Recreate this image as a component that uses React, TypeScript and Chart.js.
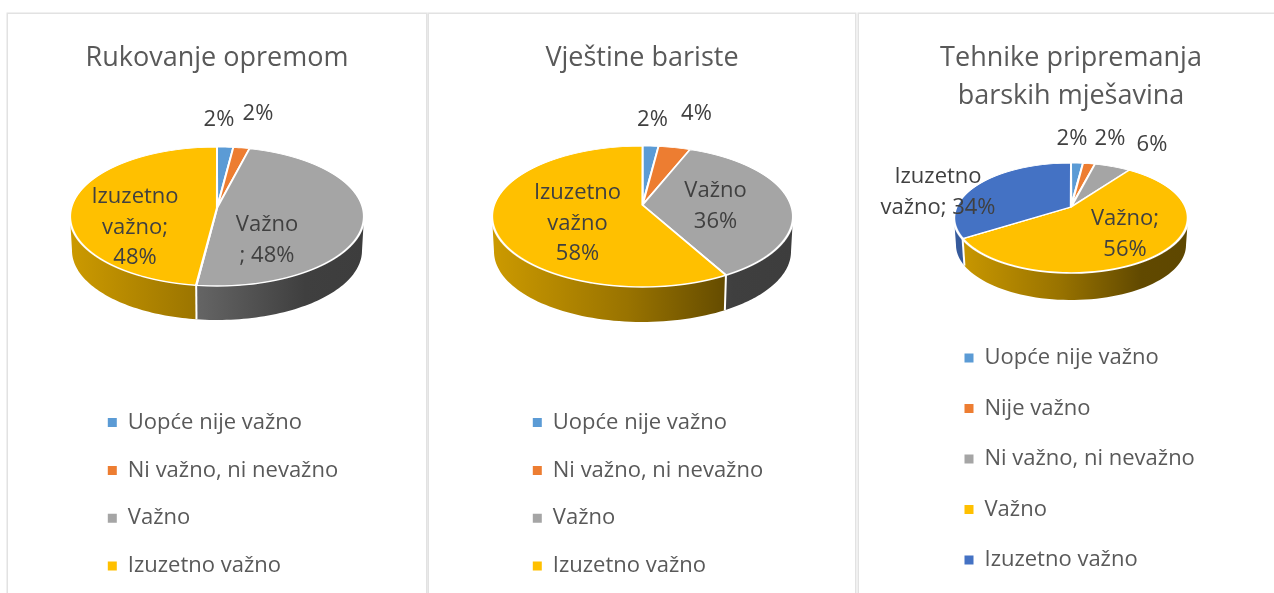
import React, { useEffect, useRef } from "react";
import { Chart, registerables } from "chart.js";

Chart.register(...registerables);

const FONT = '"Open Sans", sans-serif';
const TITLE_COLOR = "#595959";
const LABEL_COLOR = "#404040";

const categoriesFour = ["Uopće nije važno", "Ni važno, ni nevažno", "Važno", "Izuzetno važno"];
const categoriesFive = ["Uopće nije važno", "Nije važno", "Ni važno, ni nevažno", "Važno", "Izuzetno važno"];

const valuesRukovanje = [2, 2, 48, 48];
const valuesVjestine = [2, 4, 36, 58];
const valuesTehnike = [2, 2, 6, 56, 34];

const labelsRukovanje = [["2%"], ["2%"], ["Važno", "; 48%"], ["Izuzetno", "važno;", "48%"]];
const labelsVjestine = [["2%"], ["4%"], ["Važno", "36%"], ["Izuzetno", "važno", "58%"]];
const labelsTehnike = [["2%"], ["2%"], ["6%"], ["Važno;", "56%"], ["Izuzetno", "važno; 34%"]];

const colorsFour = ["#5B9BD5", "#ED7D31", "#A5A5A5", "#FFC000"];
const colorsFive = ["#5B9BD5", "#ED7D31", "#A5A5A5", "#FFC000", "#4472C4"];

const shade = (hex: string, f: number) => {
  const n = parseInt(hex.slice(1), 16);
  const c = [(n >> 16) & 255, (n >> 8) & 255, n & 255].map((v) => Math.round(v * f));
  return `rgb(${c[0]},${c[1]},${c[2]})`;
};

const panels = [
  {
    title: "Rukovanje opremom",
    categories: categoriesFour,
    values: valuesRukovanje,
    colors: colorsFour,
    labels: labelsRukovanje,
    left: 8,
    width: 418,
    padX: 74,
    legendGap: 25.8,
    legendBottom: 6,
    geom: { cx: 209, cy: 194, rx: 147, ryTop: 61, ryBottom: 78, depth: 34 },
    anchors: [[2, -88], [41, -94], [50, 17], [-82, -11]],
  },
  {
    title: "Vještine bariste",
    categories: categoriesFour,
    values: valuesVjestine,
    colors: colorsFour,
    labels: labelsVjestine,
    left: 429,
    width: 426,
    padX: 78,
    legendGap: 25.8,
    legendBottom: 6,
    geom: { cx: 213.5, cy: 191, rx: 150.5, ryTop: 59, ryBottom: 82, depth: 35 },
    anchors: [[10, -85], [54, -91], [73, -14], [-65, -12]],
  },
  {
    title: ["Tehnike pripremanja", "barskih mješavina"],
    categories: categoriesFive,
    values: valuesTehnike,
    colors: colorsFive,
    labels: labelsTehnike,
    left: 859,
    width: 424,
    padX: 77,
    legendGap: 28.5,
    legendBottom: 12,
    geom: { cx: 212, cy: 193, rx: 117, ryTop: 44, ryBottom: 66, depth: 27 },
    anchors: [[1, -68], [39, -68], [81, -62], [54, 12], [-133, -30]],
  },
];

const makePlugins = (panel: any) => {
  const g = panel.geom;
  // Perspective of a tilted disc: far half is flatter and narrower than the near half.
  const q = (g.ryBottom - g.ryTop) / (g.ryBottom + g.ryTop);
  const ry = g.ryBottom * (1 - q);
  const rxp = g.rx * Math.sqrt(1 - q * q);
  const project = (a: number) => {
    const u = Math.cos(a);
    const v = Math.sin(a);
    const w = 1 - q * v;
    return [g.cx + (rxp * u) / w, g.cy + (ry * v) / w];
  };
  const wallFrom = Math.asin(q);
  const wallTo = Math.PI - wallFrom;

  const pie3d = {
    id: "pie3d",
    beforeDatasetDraw(chart: any) {
      const ctx = chart.ctx;
      const arcs = chart.getDatasetMeta(0).data;
      // Side wall of the disc, from each slice's own angles.
      arcs.forEach((arc: any, i: number) => {
        const a0 = Math.max(arc.startAngle, wallFrom);
        const a1 = Math.min(arc.endAngle, wallTo);
        if (a1 <= a0) return;
        const steps = 60;
        ctx.beginPath();
        for (let s = 0; s <= steps; s++) {
          const [x, y] = project(a0 + ((a1 - a0) * s) / steps);
          s === 0 ? ctx.moveTo(x, y) : ctx.lineTo(x, y);
        }
        for (let s = steps; s >= 0; s--) {
          const [x, y] = project(a0 + ((a1 - a0) * s) / steps);
          ctx.lineTo(g.cx + (x - g.cx) * ((g.rx - 2) / g.rx), y + g.depth);
        }
        ctx.closePath();
        const grad = ctx.createLinearGradient(g.cx - g.rx, 0, g.cx + g.rx, 0);
        const base = panel.colors[i];
        grad.addColorStop(0, shade(base, 0.8));
        grad.addColorStop(0.45, shade(base, 0.6));
        grad.addColorStop(0.8, shade(base, 0.38));
        grad.addColorStop(1, shade(base, 0.37));
        ctx.fillStyle = grad;
        ctx.fill();
      });
      // White seams on slice boundaries that face the viewer.
      ctx.strokeStyle = "#fff";
      ctx.lineWidth = 2;
      arcs.forEach((arc: any) => {
        const a = arc.endAngle;
        if (a > wallFrom && a < wallTo) {
          const [x, y] = project(a);
          ctx.beginPath();
          ctx.moveTo(x, y);
          ctx.lineTo(g.cx + (x - g.cx) * ((g.rx - 2) / g.rx), y + g.depth);
          ctx.stroke();
        }
      });
      // Top face, drawn by the arc elements, one pixel row at a time.
      const firstRow = Math.floor(g.cy - g.ryTop - 3);
      const lastRow = Math.ceil(g.cy + g.ryBottom + 3);
      for (let row = firstRow; row <= lastRow; row++) {
        const yc = row + 0.5 - g.cy;
        const v = yc / (ry + q * yc);
        const w = 1 - q * v;
        ctx.save();
        ctx.beginPath();
        ctx.rect(0, row, chart.width, 1);
        ctx.clip();
        arcs.forEach((arc: any) => {
          const R = arc.outerRadius;
          ctx.save();
          ctx.translate(g.cx, row + 0.5);
          ctx.scale(rxp / (w * R), ry / (w * w * R));
          ctx.translate(-arc.x, -(arc.y + v * R));
          arc.draw(ctx);
          ctx.restore();
        });
        ctx.restore();
      }
      return false;
    },
    afterDraw(chart: any) {
      const ctx = chart.ctx;
      ctx.save();
      ctx.fillStyle = LABEL_COLOR;
      ctx.font = `22px ${FONT}`;
      ctx.textAlign = "center";
      ctx.textBaseline = "middle";
      panel.labels.forEach((lines: string[], i: number) => {
        const [dx, dy] = panel.anchors[i];
        lines.forEach((line: string, j: number) => {
          ctx.fillText(line, g.cx + dx, g.cy + dy + j * 30.5);
        });
      });
      ctx.restore();
    },
  };
  return [pie3d];
};

function PiePanel({ panel }: { panel: any }) {
  const ref = useRef<HTMLCanvasElement | null>(null);
  useEffect(() => {
    const chart = new Chart(ref.current as HTMLCanvasElement, {
      type: "pie",
      data: {
        labels: panel.categories,
        datasets: [
          {
            data: panel.values,
            backgroundColor: panel.colors,
            borderColor: "#ffffff",
            borderWidth: 2,
          },
        ],
      },
      options: {
        responsive: false,
        animation: false,
        layout: { padding: { left: panel.padX, right: panel.padX, top: 0, bottom: panel.legendBottom } },
        plugins: {
          tooltip: { enabled: false },
          title: {
            display: true,
            text: panel.title,
            color: TITLE_COLOR,
            font: { family: FONT, size: 27, weight: "normal", lineHeight: 1.41 },
            padding: { top: 25, bottom: 10 },
          },
          legend: {
            display: true,
            position: "bottom",
            align: "start",
            labels: {
              boxWidth: 9,
              boxHeight: 9,
              padding: panel.legendGap,
              color: TITLE_COLOR,
              font: { family: FONT, size: 22 },
              generateLabels: (c: any) =>
                (Chart as any).overrides.doughnut.plugins.legend.labels
                  .generateLabels(c)
                  .map((item: any) => ({ ...item, lineWidth: 0 })),
            },
          },
        },
      },
      plugins: makePlugins(panel) as any,
    } as any);
    return () => chart.destroy();
  }, [panel]);
  return (
    <div
      style={{
        position: "absolute",
        left: panel.left,
        top: 14,
        width: panel.width,
        height: 600,
        boxShadow: "0 0 0 1.5px #e2e2e2",
      }}
    >
      <canvas ref={ref} width={panel.width} height={579} style={{ display: "block", filter: "blur(0.4px)" }} />
    </div>
  );
}

export default function App() {
  return (
    <div style={{ position: "fixed", inset: 0, overflow: "hidden", background: "#fff" }}>
      {panels.map((p, i) => (
        <PiePanel key={i} panel={p} />
      ))}
    </div>
  );
}
